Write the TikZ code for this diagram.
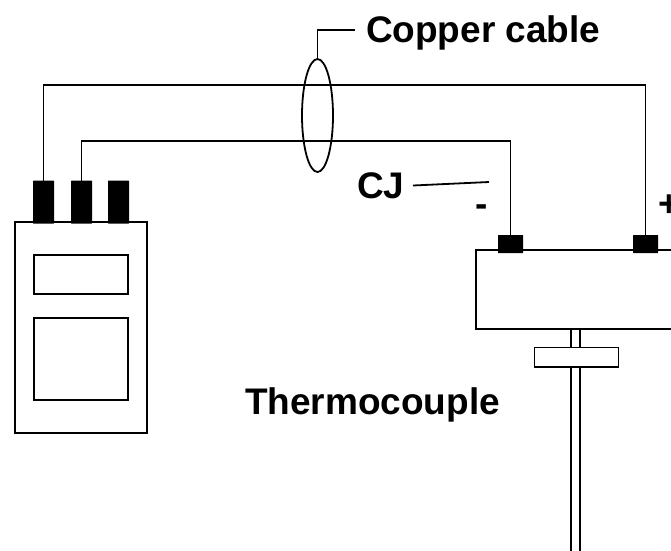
\documentclass[tikz,border=0pt]{standalone}
\usepackage{fontspec}
\setmainfont{Liberation Sans}
\usetikzlibrary{shapes.geometric}
\tikzset{
  line/.style={line width=1.8pt, draw=black},
  boxn/.style={line, rectangle, inner sep=0pt, outer sep=0pt, fill=white, minimum width=#1},
  pin/.style={rectangle, rounded corners=0.5pt, fill=black, inner sep=0pt, outer sep=0pt},
  label/.style={font=\fontsize{37}{37}\selectfont\bfseries, inner sep=0pt, outer sep=0pt, anchor=base west},
}
\begin{document}
\begin{tikzpicture}[x=1pt,y=-1pt]
\useasboundingbox (0,0) rectangle (671,550);
\clip (0,0) rectangle (671,550);
% meter
\node[boxn=132pt, minimum height=211pt] (meter) at (81,327.5) {};
\node[boxn=94pt, minimum height=39pt] (win1) at (81,274.5) {};
\node[boxn=94pt, minimum height=82pt] (win2) at (81,359) {};
\node[pin, minimum width=21pt, minimum height=43pt] (t1) at (43.5,202) {};
\node[pin, minimum width=21pt, minimum height=43pt] (t2) at (81.5,202) {};
\node[pin, minimum width=21pt, minimum height=43pt] (t3) at (118.5,202) {};
% thermocouple head and stem
\coordinate (stemLa) at (571,329);
\coordinate (stemRa) at (580,329);
\coordinate (stemLb) at (571,552);
\coordinate (stemRb) at (580,552);
\draw[line] (stemLa) -- (stemLb);
\draw[line] (stemRa) -- (stemRb);
\node[boxn=84pt, minimum height=19.5pt] (flange) at (576.5,357.2) {};
\node[boxn=220pt, minimum height=79pt] (head) at (586,289.5) {};
\node[pin, minimum width=25pt, minimum height=18pt] (pm) at (510.5,244) {};
\node[pin, minimum width=25pt, minimum height=18pt] (pp) at (645.5,244) {};
% wires
\coordinate (c1) at (43.5,85);
\coordinate (c2) at (81.5,141);
\draw[line] (t1.north) -- (c1) -| (pp.north);
\draw[line] (t2.north) -- (c2) -| (pm.north);
% cable ellipse and leader
\node[line, ellipse, inner sep=0pt, outer sep=0pt, minimum width=31pt, minimum height=113pt] (cable) at (317.5,115.5) {};
\node[label] (copper) at (366,42) {Copper cable};
\coordinate (c3) at (317.5,30);
\coordinate (c4) at (355,30);
\draw[line] (cable.north) -- (c3) -- (c4);
% CJ
\node[label] (cj) at (357,198) {CJ};
\coordinate (cjA) at (413,185.5);
\coordinate (cjB) at (489,182);
\draw[line] (cjA) -- (cjB);
\node[label] (minus) at (475.5,216) {-};
\node[label] (plus) at (658.5,216) {+};
\node[label] (tc) at (245,414) {Thermocouple};
\end{tikzpicture}
\end{document}
